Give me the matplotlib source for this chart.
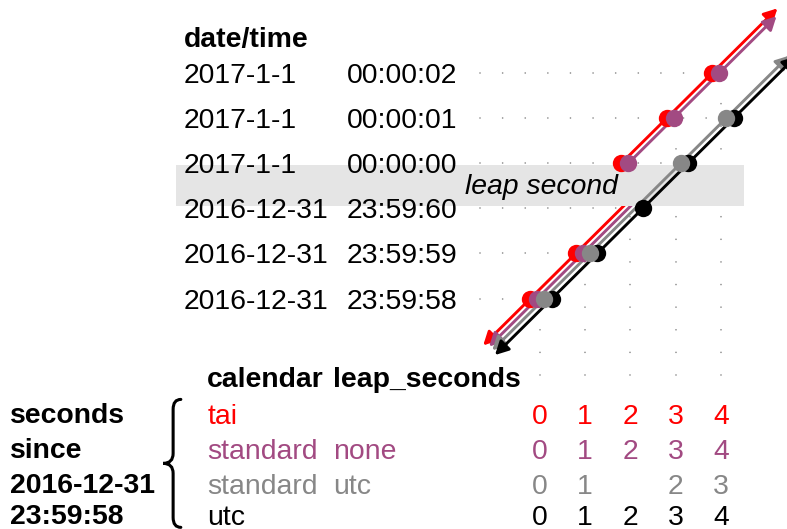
"""
Leap second diagram: date/time rows vs seconds elapsed since 2016-12-31 23:59:58
for the tai / standard / utc calendars.
"""
import numpy as np
import matplotlib
matplotlib.use("Agg")
import matplotlib.pyplot as plt
from matplotlib.patches import FancyArrowPatch, Rectangle, PathPatch
from matplotlib.path import Path

plt.rcParams["font.family"] = ["Liberation Sans", "DejaVu Sans"]

# date/time rows, bottom to top
DATES = ["2016-12-31", "2016-12-31", "2016-12-31", "2017-1-1", "2017-1-1", "2017-1-1"]
TIMES = ["23:59:58", "23:59:59", "23:59:60", "00:00:00", "00:00:01", "00:00:02"]

# calendars, one line each
CALENDARS    = ["tai", "standard", "standard", "utc"]
LEAP_SECONDS = ["", "none", "utc", ""]
COLORS       = ["#FF0000", "#A24A82", "#878787", "#000000"]

# seconds since 2016-12-31 23:59:58, per column (table values)
SECONDS_TAI      = [0, 1, 2, 3, 4]
SECONDS_STD_NONE = [0, 1, 2, 3, 4]
SECONDS_STD_UTC  = [0, 1, None, 2, 3]
SECONDS_UTC      = [0, 1, 2, 3, 4]

# date/time row reached by each calendar in each column
ROWS_TAI      = [0, 1, 3, 4, 5]
ROWS_STD_NONE = [0, 1, 3, 4, 5]
ROWS_STD_UTC  = [0, 1, None, 3, 4]
ROWS_UTC      = [0, 1, 2, 3, 4]

# x extent of each arrow (tips)
LINE_X0 = [-1.24, -1.11, -1.04, -0.98]
LINE_X1 = [5.24, 5.22, 5.50, 5.65]

SECONDS_ALL = [SECONDS_TAI, SECONDS_STD_NONE, SECONDS_STD_UTC, SECONDS_UTC]
ROWS_ALL    = [ROWS_TAI, ROWS_STD_NONE, ROWS_STD_UTC, ROWS_UTC]
DODGE       = [-0.20, -0.045, 0.11, 0.275]

BAND = (2.05, 2.96)     # leap second band (rows)
BAND_X = (-8.0, 4.5)
X_DOT0, Y_DOT0 = -1.31, -1.70
FS = 20.4

fig = plt.figure(figsize=(7.87, 5.29), dpi=100)
ax = fig.add_axes([0, 0, 1, 1])
ax.set_xlim(-539.5 / 45.4, (787 - 539.5) / 45.4)
ax.set_ylim((298.5 - 529) / 45.05, 298.5 / 45.05)
ax.axis("off")

# point positions
pts = []
for k, rows in enumerate(ROWS_ALL):
    xs = [c + DODGE[k] for c, r in enumerate(rows) if r is not None]
    ys = [r for r in rows if r is not None]
    pts.append((xs, ys))

# dotted guides
dot_kw = dict(color="#8a8a8a", lw=1.2, dash_capstyle="round",
              linestyle=(0, (0.01, 16.27 / 1.2)), zorder=1)
for r in range(len(TIMES)):
    xmax = max(x for xs, ys in pts for x, y in zip(xs, ys) if y == r)
    ax.plot([X_DOT0, xmax], [r, r], **dot_kw)
for c in range(5):
    ymax = max(rows[c] for rows in ROWS_ALL if rows[c] is not None)
    ax.plot([c, c], [Y_DOT0, ymax], **dot_kw)

# leap second band
ax.add_patch(Rectangle((BAND_X[0], BAND[0]), BAND_X[1] - BAND_X[0], BAND[1] - BAND[0],
                       facecolor="#E5E5E5", edgecolor="none", zorder=3))
ax.text(-1.64, 2.32, "leap second", fontsize=FS, style="italic", zorder=6)

# lines with arrows, split where the calendar skips a row
mid = 0.5 * (BAND[0] + BAND[1])
for k, rows in enumerate(ROWS_ALL):
    offs = [r - c for c, r in enumerate(rows) if r is not None]
    groups = []
    for o in offs:
        if not groups or groups[-1] != o:
            groups.append(o)
    z = 2 if len(groups) > 1 else 4
    for g, off in enumerate(groups):
        first, last = g == 0, g == len(groups) - 1
        xa = LINE_X0[k] if first else mid + DODGE[k] - off
        xb = LINE_X1[k] if last else mid + DODGE[k] - off
        style = "<|-|>" if first and last else ("<|-" if first else "-|>")
        ya = xa - DODGE[k] + off
        yb = xb - DODGE[k] + off
        ax.add_patch(FancyArrowPatch((xa, ya), (xb, yb),
                                     arrowstyle=f"{style},head_length=8,head_width=4.2",
                                     color=COLORS[k], lw=2.1, shrinkA=0, shrinkB=0,
                                     mutation_scale=1, zorder=z))

# points
for k in [0, 1, 3, 2]:
    xs, ys = pts[k]
    ax.plot(xs, ys, "o", color=COLORS[k], ms=12.5, mew=0, zorder=5)

# date/time labels
ax.text(-7.83, 5.59, "date/time", fontsize=FS, fontweight="bold", zorder=6)
for r, (d, t) in enumerate(zip(DATES, TIMES)):
    ax.text(-7.83, r - 0.222, d, fontsize=FS, zorder=6)
    ax.text(-4.24, r - 0.222, t, fontsize=FS, zorder=6)

# table
TABLE_Y = [-2.786, -3.563, -4.34, -5.03]
ax.text(-7.32, -1.964, "calendar", fontsize=FS, fontweight="bold")
ax.text(-4.55, -1.964, "leap_seconds", fontsize=FS, fontweight="bold")
for k in range(4):
    ax.text(-7.32, TABLE_Y[k], CALENDARS[k], fontsize=FS, color=COLORS[k])
    ax.text(-4.55, TABLE_Y[k], LEAP_SECONDS[k], fontsize=FS, color=COLORS[k])
    for c, s in enumerate(SECONDS_ALL[k]):
        if s is not None:
            ax.text(c, TABLE_Y[k], str(s), fontsize=FS, color=COLORS[k], ha="center")

for i, line in enumerate(["seconds", "since", "2016-12-31", "23:59:58"]):
    ax.text(-11.66, TABLE_Y[i] + 0.02, line, fontsize=FS, fontweight="bold")

# curly brace
xe, xm, xt = -7.9, -8.07, -8.29
yt, yc, yb = -2.24, -3.66, -5.08
rb = 0.22
verts = [(xe, yt), (xm, yt), (xm, yt - rb),
         (xm, yc + rb), (xm, yc), (xt, yc),
         (xm, yc), (xm, yc - rb),
         (xm, yb + rb), (xm, yb), (xe, yb)]
codes = [Path.MOVETO, Path.CURVE3, Path.CURVE3,
         Path.LINETO, Path.CURVE3, Path.CURVE3,
         Path.CURVE3, Path.CURVE3,
         Path.LINETO, Path.CURVE3, Path.CURVE3]
ax.add_patch(PathPatch(Path(verts, codes), facecolor="none", edgecolor="black",
                       lw=2.2, capstyle="round"))

fig.savefig("out.png", dpi=100)
